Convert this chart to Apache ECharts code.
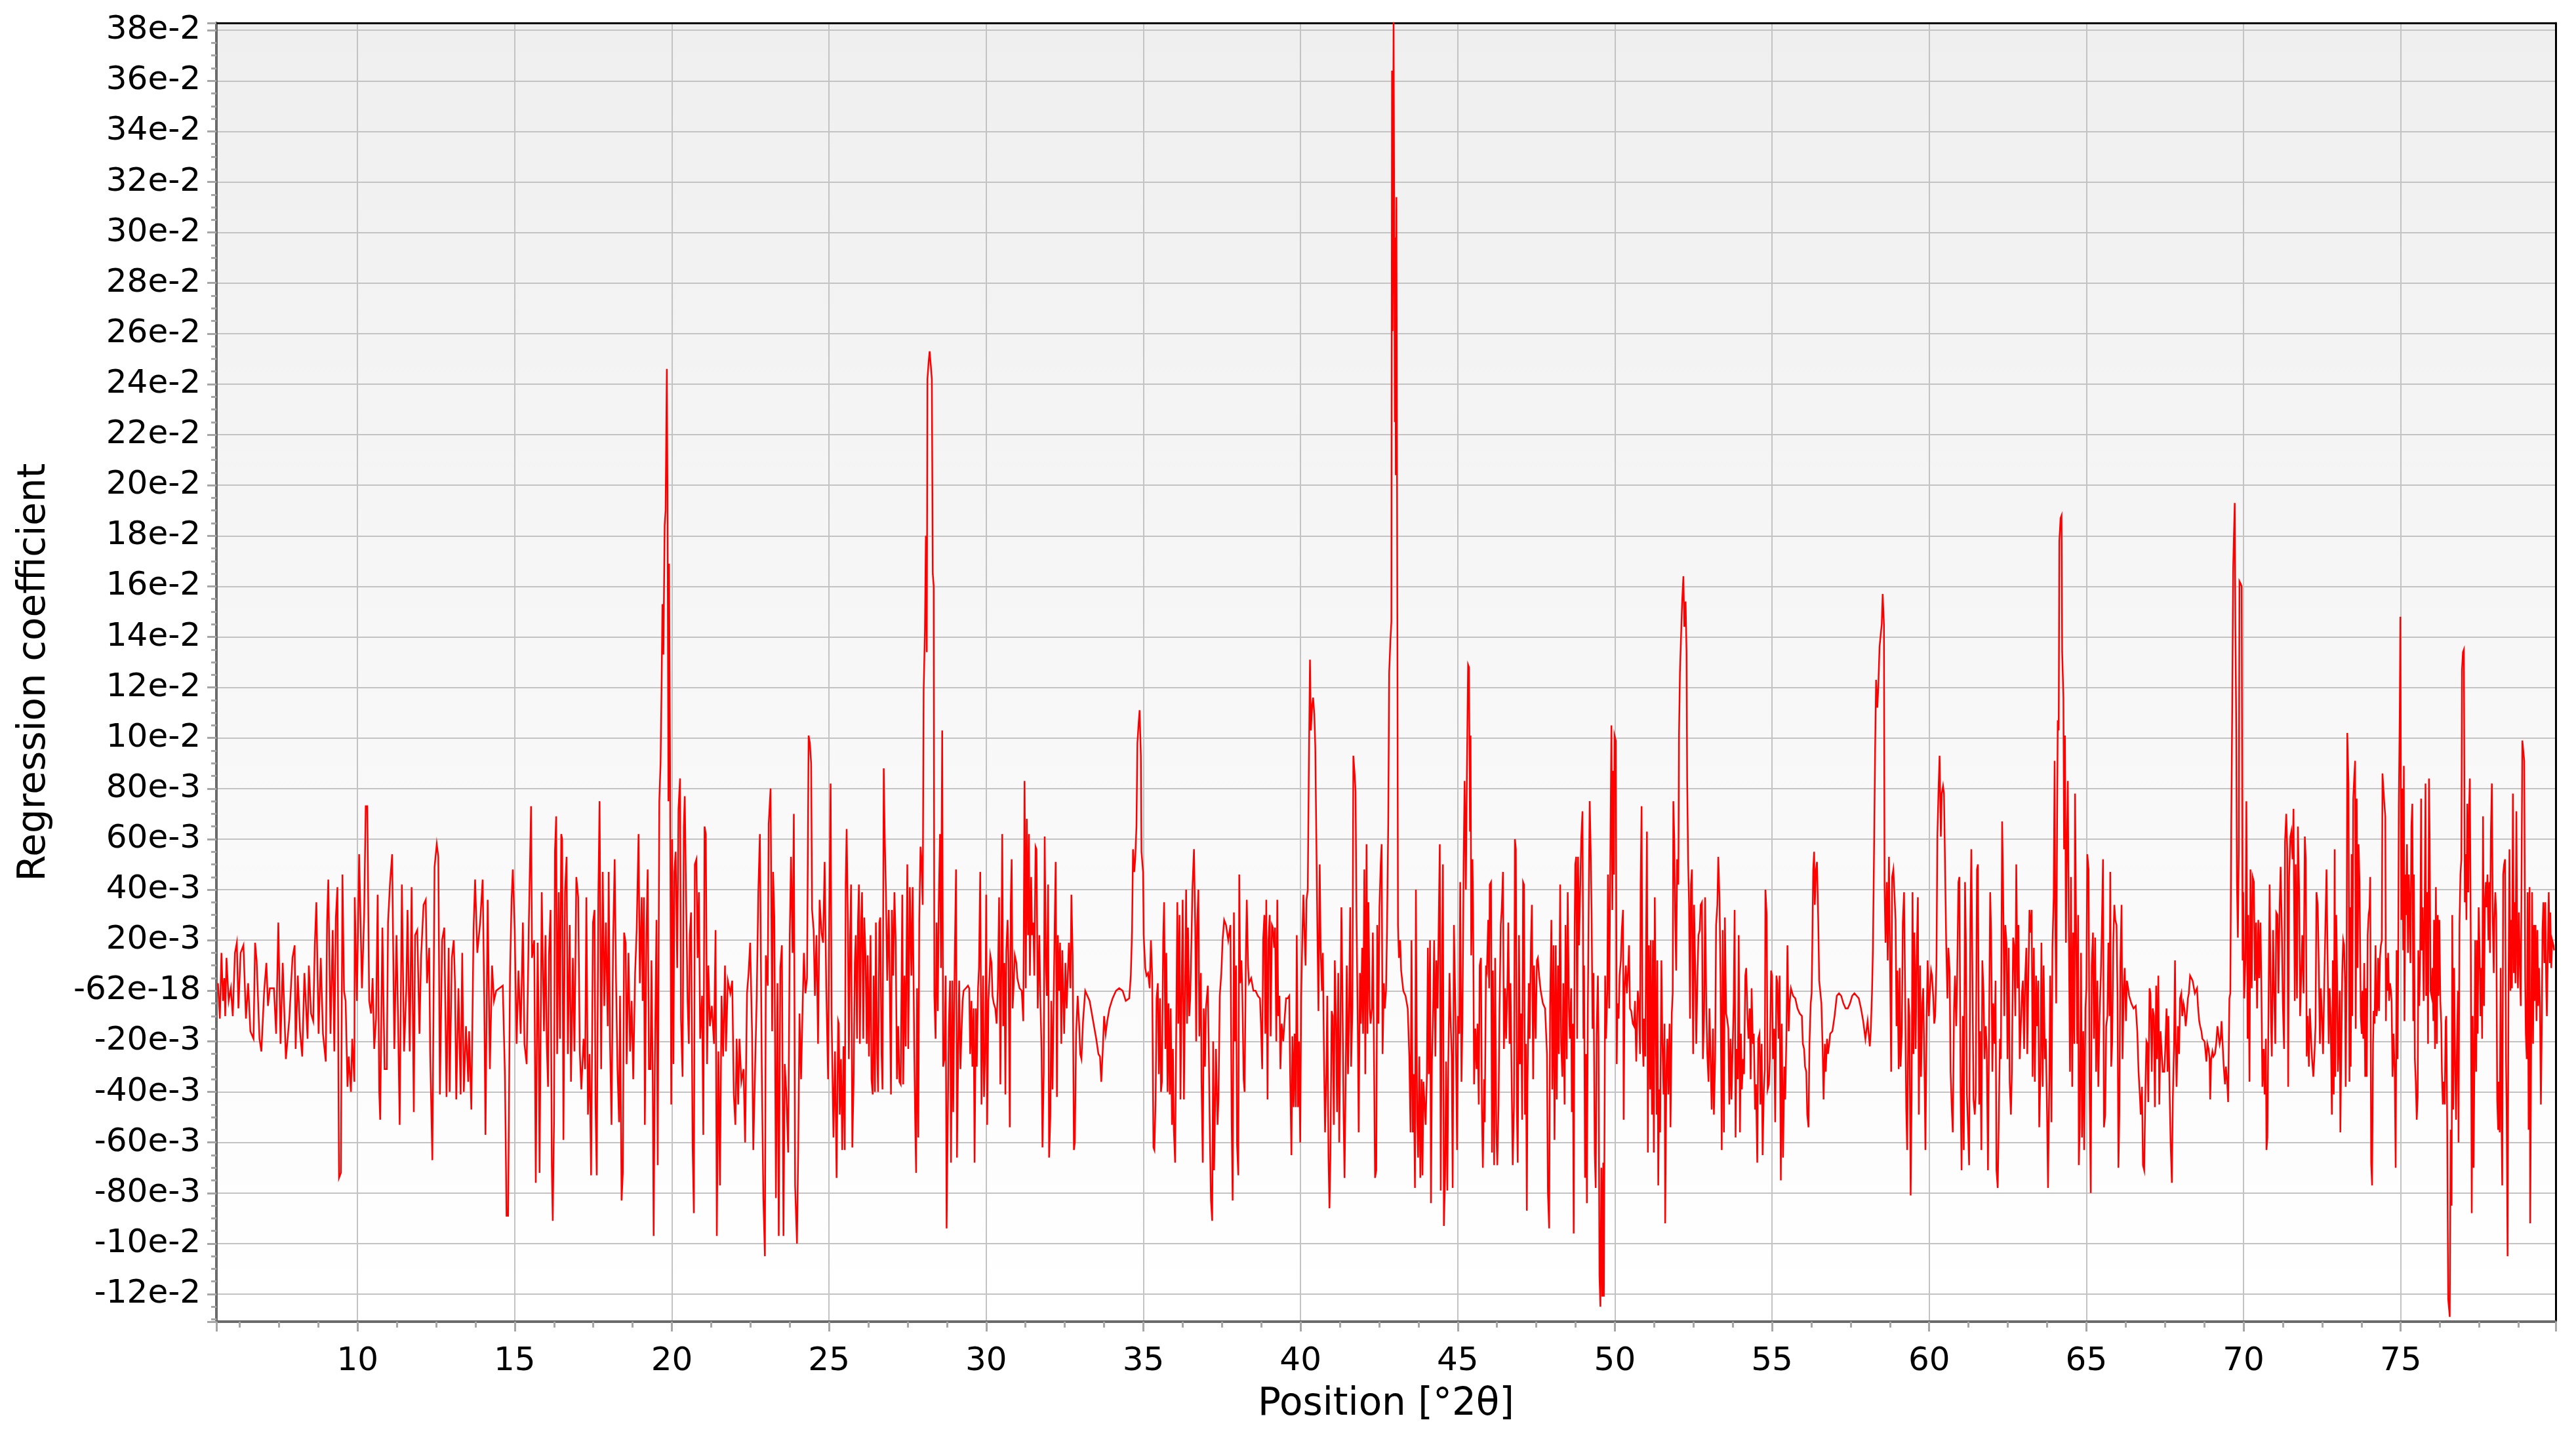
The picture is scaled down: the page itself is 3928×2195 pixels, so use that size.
<!DOCTYPE html>
<html>
<head>
<meta charset="utf-8">
<script src="https://cdn.jsdelivr.net/npm/echarts@6/dist/echarts.min.js"></script>
<style>
html,body{margin:0;padding:0;background:#ffffff;}
#chart{width:3928px;height:2195px;}
</style>
</head>
<body>
<div id="chart"></div>
<script>
// ---- texts ----
const xAxisTitle = 'Position [°2θ]';
const yAxisTitle = 'Regression coefficient';

// ---- axis ranges / ticks ----
const xRange = [5.51, 79.93];
const xSplits = 15;          // gives a tick every 5 °2θ
const yRange = [-0.1309, 0.3829];
const ySplits = 26;          // gives a tick every 0.02
const yTickStart = -0.12;
const yTickStep = 0.02;
const yTickLabels = ['-12e-2','-10e-2','-80e-3','-60e-3','-40e-3','-20e-3','-62e-18',
  '20e-3','40e-3','60e-3','80e-3','10e-2','12e-2','14e-2','16e-2','18e-2','20e-2',
  '22e-2','24e-2','26e-2','28e-2','30e-2','32e-2','34e-2','36e-2','38e-2'];

// ---- data: [position (°2θ), regression coefficient] ----
const seg05to15 = [[5.56,0.003],[5.62,-0.011],[5.67,0.015],[5.72,-0.004],[5.76,0.005],[5.79,-0.010],[5.83,0.013],[5.90,-0.004],[5.97,0.001],[6.03,-0.010],[6.10,0.015],[6.16,0.019],[6.21,-0.007],[6.28,0.015],[6.37,0.018],[6.45,-0.011],[6.52,0.003],[6.59,-0.016],[6.69,-0.019],[6.74,0.019],[6.79,0.012],[6.88,-0.019],[6.94,-0.024],[7.03,0.000],[7.10,0.011],[7.15,-0.006],[7.21,0.001],[7.34,0.001],[7.41,-0.017],[7.48,0.027],[7.55,-0.021],[7.62,0.011],[7.72,-0.027],[7.83,-0.011],[7.93,0.013],[8.00,0.018],[8.03,-0.023],[8.10,0.006],[8.17,-0.016],[8.24,-0.026],[8.31,0.007],[8.41,-0.019],[8.45,0.010],[8.52,-0.009],[8.59,-0.012],[8.64,0.018],[8.69,0.035],[8.76,-0.017],[8.83,0.013],[8.90,-0.017],[8.99,-0.028],[9.03,0.027],[9.07,0.044],[9.14,-0.017],[9.21,0.024],[9.26,-0.024],[9.31,0.029],[9.36,0.041],[9.41,-0.074],[9.47,-0.072],[9.52,0.046],[9.57,0.000],[9.62,-0.004],[9.68,-0.038],[9.72,-0.026],[9.79,-0.040],[9.83,-0.019],[9.90,-0.036],[9.91,0.037],[9.98,-0.004],[10.05,0.054],[10.14,0.001],[10.21,0.030],[10.26,0.073],[10.31,0.073],[10.37,-0.004],[10.43,-0.009],[10.48,0.005],[10.53,-0.023],[10.59,-0.011],[10.64,0.038],[10.69,-0.040],[10.72,-0.051],[10.79,0.025],[10.86,-0.031],[10.93,-0.031],[10.97,0.027],[11.03,0.042],[11.10,0.054],[11.17,-0.023],[11.24,0.022],[11.29,-0.012],[11.34,-0.053],[11.41,0.042],[11.48,-0.024],[11.55,0.000],[11.59,0.032],[11.66,-0.024],[11.72,0.041],[11.79,-0.048],[11.83,0.022],[11.90,0.024],[11.97,-0.017],[12.02,0.013],[12.10,0.034],[12.17,0.036],[12.21,0.003],[12.28,0.017],[12.31,-0.024],[12.38,-0.067],[12.45,0.049],[12.52,0.058],[12.57,0.053],[12.62,-0.041],[12.69,0.020],[12.76,0.025],[12.83,-0.042],[12.90,0.017],[12.93,-0.040],[13.00,0.013],[13.06,0.020],[13.10,0.003],[13.14,-0.043],[13.21,0.001],[13.28,-0.041],[13.33,0.015],[13.38,-0.040],[13.45,-0.014],[13.52,-0.036],[13.55,-0.016],[13.62,-0.047],[13.69,0.024],[13.74,0.044],[13.81,0.015],[13.90,0.027],[13.98,0.044],[14.03,-0.002],[14.07,-0.057],[14.14,0.036],[14.21,-0.031],[14.28,0.010],[14.34,-0.004],[14.41,0.000],[14.62,0.002],[14.69,-0.034],[14.74,-0.089],[14.79,-0.089],[14.85,0.006],[14.90,0.036],[14.94,0.048],[15.00,0.024],[15.06,-0.021],[15.12,0.008],[15.19,-0.017],[15.26,0.027],[15.31,-0.021],[15.38,-0.029],[15.45,0.027],[15.52,0.073],[15.55,0.013],[15.62,0.020],[15.67,-0.076]];

const seg15to25 = [[15.73,0.019],[15.76,-0.011],[15.79,-0.072],[15.83,-0.072],[15.86,0.039],[15.90,0.039],[15.93,-0.016],[15.98,0.022],[16.02,-0.021],[16.06,-0.038],[16.09,0.014],[16.14,0.032],[16.18,-0.069],[16.21,-0.091],[16.25,-0.052],[16.28,0.055],[16.32,0.069],[16.35,-0.025],[16.40,0.039],[16.44,-0.019],[16.48,0.062],[16.51,0.060],[16.55,-0.059],[16.60,0.039],[16.65,0.053],[16.69,-0.025],[16.75,0.026],[16.79,-0.036],[16.85,0.013],[16.90,-0.024],[16.96,0.045],[17.02,0.037],[17.07,-0.024],[17.12,-0.039],[17.19,-0.019],[17.24,-0.031],[17.28,0.037],[17.33,-0.049],[17.38,-0.025],[17.43,-0.073],[17.49,0.027],[17.54,0.032],[17.57,-0.045],[17.61,-0.073],[17.66,0.037],[17.70,0.075],[17.75,-0.031],[17.80,0.047],[17.85,-0.006],[17.90,0.027],[17.96,-0.014],[17.99,0.047],[18.03,-0.019],[18.08,-0.053],[18.13,0.019],[18.18,0.052],[18.22,0.007],[18.27,-0.031],[18.32,-0.052],[18.35,-0.002],[18.40,-0.083],[18.44,-0.072],[18.48,0.023],[18.53,0.019],[18.56,-0.029],[18.62,0.015],[18.67,-0.024],[18.72,-0.004],[18.77,-0.035],[18.83,0.007],[18.88,0.024],[18.94,0.062],[18.98,0.003],[19.04,0.037],[19.07,-0.004],[19.11,0.037],[19.14,-0.053],[19.19,0.022],[19.23,0.048],[19.27,-0.031],[19.32,-0.031],[19.35,0.012],[19.39,-0.033],[19.42,-0.097],[19.46,-0.026],[19.51,0.028],[19.55,-0.069],[19.60,0.075],[19.64,0.090],[19.67,0.118],[19.70,0.153],[19.73,0.133],[19.77,0.184],[19.80,0.190],[19.84,0.246],[19.86,0.199],[19.89,0.075],[19.91,0.169],[19.94,0.095],[19.98,-0.045],[20.01,0.060],[20.05,-0.029],[20.08,0.047],[20.12,0.055],[20.17,0.009],[20.21,0.072],[20.26,0.084],[20.29,-0.011],[20.34,-0.034],[20.38,0.065],[20.41,0.077],[20.45,0.039],[20.50,-0.004],[20.54,-0.021],[20.57,0.022],[20.61,0.031],[20.66,-0.062],[20.70,-0.088],[20.73,0.050],[20.78,0.052],[20.82,0.013],[20.86,0.039],[20.90,-0.019],[20.96,-0.002],[21.00,-0.057],[21.04,0.065],[21.08,0.062],[21.12,-0.029],[21.16,0.010],[21.21,-0.014],[21.27,-0.006],[21.34,-0.021],[21.39,0.024],[21.43,-0.097],[21.48,-0.024],[21.53,-0.077],[21.58,-0.002],[21.63,-0.026],[21.69,0.010],[21.72,-0.024],[21.78,0.004],[21.86,-0.001],[21.92,0.004],[21.97,-0.041],[22.02,-0.053],[22.06,-0.019],[22.11,-0.045],[22.15,-0.019],[22.21,-0.036],[22.28,-0.031],[22.33,-0.060],[22.39,-0.001],[22.44,0.007],[22.49,0.019],[22.55,-0.016],[22.59,-0.063],[22.65,-0.029],[22.70,-0.002],[22.75,0.039],[22.80,0.062],[22.86,-0.031],[22.91,-0.082],[22.96,-0.105],[22.99,0.014],[23.05,0.002],[23.08,0.066],[23.14,0.080],[23.19,-0.016],[23.22,0.047],[23.26,0.029],[23.31,-0.082],[23.36,0.003],[23.40,-0.097],[23.45,0.009],[23.50,0.018],[23.55,-0.097],[23.59,-0.029],[23.64,-0.040],[23.70,-0.064],[23.75,0.022],[23.79,0.053],[23.84,0.015],[23.88,0.070],[23.92,-0.077],[23.98,-0.100],[24.02,-0.062],[24.06,-0.009],[24.11,-0.035],[24.16,-0.006],[24.20,0.015],[24.25,-0.001],[24.30,0.005],[24.35,0.101],[24.39,0.098],[24.43,0.090],[24.46,0.032],[24.51,0.024],[24.55,-0.002],[24.60,0.022],[24.65,-0.021],[24.70,0.036],[24.76,0.023],[24.81,0.019],[24.86,0.051],[24.91,0.002],[24.97,-0.035],[25.00,0.019],[25.05,0.082],[25.08,-0.009],[25.14,-0.058],[25.19,-0.024],[25.24,-0.074],[25.29,-0.012]];

const seg25to35 = [[25.31,-0.013],[25.34,-0.049],[25.38,-0.027],[25.42,-0.063],[25.46,-0.022],[25.50,-0.063],[25.53,0.042],[25.56,0.064],[25.60,0.027],[25.63,-0.027],[25.67,0.022],[25.70,0.042],[25.74,-0.062],[25.78,-0.037],[25.82,0.011],[25.85,0.022],[25.89,-0.019],[25.92,0.027],[25.95,0.042],[25.98,-0.021],[26.02,0.027],[26.05,0.039],[26.09,-0.019],[26.12,0.029],[26.16,0.014],[26.20,-0.021],[26.23,0.014],[26.27,-0.026],[26.32,0.022],[26.35,-0.035],[26.39,-0.041],[26.42,0.006],[26.46,-0.040],[26.49,0.027],[26.53,-0.025],[26.56,-0.040],[26.60,0.027],[26.63,0.029],[26.67,-0.025],[26.70,-0.039],[26.74,0.088],[26.77,0.062],[26.81,0.039],[26.85,0.004],[26.90,0.032],[26.93,0.004],[26.97,-0.041],[27.00,0.032],[27.04,0.006],[27.08,0.039],[27.12,0.020],[27.16,-0.035],[27.20,-0.014],[27.24,-0.036],[27.28,-0.037],[27.33,0.038],[27.36,-0.037],[27.40,0.006],[27.44,-0.022],[27.49,0.050],[27.52,-0.023],[27.57,0.041],[27.62,0.006],[27.66,0.041],[27.71,-0.022],[27.74,-0.051],[27.77,-0.072],[27.80,0.001],[27.84,-0.058],[27.87,0.028],[27.91,0.057],[27.94,0.052],[27.98,0.034],[28.01,0.119],[28.05,0.142],[28.08,0.180],[28.11,0.134],[28.13,0.242],[28.17,0.249],[28.20,0.253],[28.24,0.247],[28.27,0.242],[28.30,0.165],[28.33,0.160],[28.35,-0.002],[28.39,-0.019],[28.42,0.027],[28.46,-0.008],[28.49,0.034],[28.53,0.062],[28.56,0.009],[28.60,0.103],[28.63,-0.030],[28.67,-0.027],[28.71,0.006],[28.74,-0.094],[28.78,-0.094],[28.81,-0.014],[28.85,0.004],[28.88,-0.068],[28.92,0.004],[28.95,-0.048],[29.00,0.014],[29.04,0.048],[29.07,-0.066],[29.11,-0.022],[29.14,0.004],[29.18,-0.031],[29.21,-0.018],[29.25,-0.004],[29.28,0.000],[29.35,0.001],[29.42,0.002],[29.46,0.001],[29.49,-0.025],[29.53,-0.004],[29.56,-0.030],[29.60,-0.007],[29.63,-0.068],[29.67,-0.007],[29.70,-0.030],[29.74,0.001],[29.77,0.009],[29.81,0.047],[29.85,-0.045],[29.90,0.006],[29.93,-0.042],[29.97,-0.022],[30.00,0.038],[30.03,-0.053],[30.07,-0.004],[30.10,0.004],[30.13,0.014],[30.17,0.011],[30.20,-0.002],[30.24,-0.005],[30.29,-0.007],[30.33,-0.013],[30.37,0.001],[30.41,0.037],[30.45,-0.037],[30.48,0.009],[30.51,0.062],[30.54,-0.014],[30.58,0.011],[30.61,-0.041],[30.64,0.016],[30.68,0.028],[30.71,0.011],[30.75,-0.054],[30.78,0.034],[30.81,0.052],[30.84,-0.007],[30.87,0.001],[30.91,0.014],[30.96,0.011],[30.99,0.005],[31.06,0.001],[31.13,0.000],[31.18,-0.012],[31.22,0.083],[31.26,0.001],[31.29,0.068],[31.33,0.022],[31.36,0.062],[31.39,0.006],[31.43,0.045],[31.46,0.022],[31.50,0.027],[31.53,0.006],[31.57,0.057],[31.60,0.056],[31.64,-0.007],[31.69,0.022],[31.72,-0.002],[31.76,-0.023],[31.79,-0.062],[31.83,-0.032],[31.86,0.061],[31.90,0.010],[31.93,-0.002],[31.97,0.042],[32.00,-0.066],[32.04,-0.050],[32.07,-0.004],[32.11,-0.039],[32.14,-0.009],[32.18,0.027],[32.21,0.051],[32.25,-0.042],[32.28,0.022],[32.32,0.000],[32.35,0.019],[32.39,-0.021],[32.42,0.016],[32.48,-0.017],[32.52,0.011],[32.56,-0.007],[32.63,0.019],[32.68,0.001],[32.71,0.038],[32.75,0.014],[32.79,-0.063],[32.82,-0.060],[32.86,-0.017],[32.91,-0.002],[32.96,-0.014],[32.99,-0.025],[33.03,-0.027],[33.08,-0.012],[33.15,0.000],[33.22,-0.002],[33.29,-0.004],[33.36,-0.009],[33.43,-0.014],[33.50,-0.019],[33.57,-0.025],[33.62,-0.026],[33.66,-0.036],[33.71,-0.023],[33.75,-0.010],[33.80,-0.017],[33.85,-0.012],[33.92,-0.007],[34.02,-0.003],[34.13,0.000],[34.23,0.001],[34.34,0.000],[34.44,-0.004],[34.55,-0.003],[34.60,0.006],[34.64,0.024],[34.67,0.056],[34.71,0.047],[34.74,0.052],[34.78,0.065],[34.81,0.098],[34.85,0.106],[34.88,0.111],[34.92,0.093],[34.94,0.055],[34.99,0.047],[35.01,0.022],[35.06,0.009],[35.10,0.006],[35.15,0.007],[35.20,0.001],[35.24,0.020],[35.28,0.006],[35.32,-0.062]];

const seg35to45 = [[35.35,-0.063],[35.39,-0.043],[35.42,-0.003],[35.46,0.003],[35.49,-0.033],[35.53,-0.003],[35.56,-0.040],[35.59,-0.036],[35.63,0.020],[35.66,0.035],[35.70,-0.023],[35.73,0.015],[35.77,-0.040],[35.80,-0.005],[35.84,-0.041],[35.87,-0.007],[35.91,-0.053],[35.94,-0.023],[35.97,-0.055],[36.01,-0.068],[36.04,-0.023],[36.08,0.035],[36.11,-0.013],[36.15,0.030],[36.18,-0.043],[36.22,0.003],[36.25,0.036],[36.29,-0.043],[36.32,-0.007],[36.36,0.040],[36.39,-0.013],[36.42,0.025],[36.46,-0.010],[36.49,-0.003],[36.53,0.020],[36.56,0.040],[36.61,0.056],[36.65,0.025],[36.68,-0.020],[36.71,0.026],[36.75,0.040],[36.78,-0.018],[36.83,0.007],[36.85,-0.036],[36.89,-0.068],[36.92,-0.007],[36.96,-0.030],[36.99,-0.007],[37.05,0.002],[37.08,-0.023],[37.12,-0.060],[37.15,-0.083],[37.19,-0.091],[37.22,-0.020],[37.25,-0.071],[37.31,-0.023],[37.36,-0.053],[37.39,-0.043],[37.43,-0.002],[37.48,0.007],[37.52,0.020],[37.57,0.028],[37.63,0.026],[37.70,0.020],[37.77,0.026],[37.81,-0.053],[37.84,-0.083],[37.88,0.031],[37.91,-0.020],[37.95,0.010],[37.98,-0.061],[38.02,-0.073],[38.05,0.046],[38.08,0.003],[38.12,0.012],[38.15,-0.002],[38.19,-0.035],[38.22,-0.040],[38.26,0.013],[38.29,0.036],[38.33,0.010],[38.36,0.003],[38.43,0.005],[38.50,0.000],[38.57,0.000],[38.64,-0.002],[38.71,-0.003],[38.74,-0.013],[38.78,-0.031],[38.81,0.020],[38.85,0.030],[38.88,-0.017],[38.91,0.036],[38.95,-0.043],[38.98,0.020],[39.02,0.030],[39.05,-0.018],[39.09,0.026],[39.12,0.025],[39.16,0.017],[39.19,0.025],[39.23,-0.020],[39.26,0.036],[39.29,-0.010],[39.33,-0.002],[39.36,-0.031],[39.40,-0.013],[39.45,-0.020],[39.50,-0.010],[39.54,-0.003],[39.59,-0.003],[39.64,-0.002],[39.67,-0.033],[39.71,-0.065],[39.74,-0.018],[39.78,-0.046],[39.81,-0.017],[39.85,-0.046],[39.88,0.022],[39.92,-0.046],[39.95,-0.020],[39.99,-0.060],[40.02,-0.003],[40.06,0.023],[40.09,0.038],[40.12,0.025],[40.16,0.010],[40.19,0.036],[40.23,0.040],[40.26,0.083],[40.30,0.131],[40.33,0.103],[40.37,0.113],[40.40,0.116],[40.44,0.109],[40.47,0.096],[40.50,0.063],[40.54,0.020],[40.57,-0.008],[40.61,0.050],[40.64,0.017],[40.68,0.000],[40.71,0.015],[40.75,-0.030],[40.78,-0.056],[40.82,-0.033],[40.85,-0.002],[40.89,-0.066],[40.92,-0.086],[40.95,-0.066],[40.99,-0.008],[41.02,-0.010],[41.06,-0.053],[41.09,0.012],[41.13,-0.013],[41.16,-0.048],[41.20,0.007],[41.23,-0.060],[41.27,-0.013],[41.30,0.033],[41.33,0.003],[41.37,-0.050],[41.40,-0.074],[41.44,-0.030],[41.47,0.010],[41.51,-0.033],[41.54,-0.013],[41.58,0.033],[41.61,-0.030],[41.65,-0.007],[41.68,0.093],[41.72,0.086],[41.75,0.079],[41.78,0.030],[41.82,-0.013],[41.85,-0.056],[41.89,0.007],[41.92,-0.013],[41.96,0.017],[41.99,-0.017],[42.03,0.048],[42.06,-0.033],[42.10,0.058],[42.13,-0.017],[42.16,0.035],[42.20,-0.007],[42.23,-0.013],[42.27,-0.007],[42.30,0.023],[42.34,-0.030],[42.37,-0.074],[42.41,-0.071],[42.44,0.026],[42.48,-0.013],[42.51,0.033],[42.55,0.050],[42.58,0.058],[42.61,-0.025],[42.65,0.003],[42.68,-0.007],[42.72,0.000],[42.75,0.023],[42.79,0.066],[42.82,0.126],[42.86,0.139],[42.89,0.146],[42.91,0.364],[42.93,0.261],[42.96,0.386],[43.00,0.225],[43.02,0.298],[43.03,0.204],[43.05,0.314],[43.08,0.146],[43.10,0.026],[43.13,0.013],[43.17,0.020],[43.20,0.008],[43.27,0.000],[43.34,-0.002],[43.41,-0.007],[43.46,-0.026],[43.50,-0.056],[43.53,0.020],[43.57,-0.056],[43.60,-0.033],[43.64,-0.078],[43.67,0.040],[43.71,-0.050],[43.74,-0.066],[43.78,-0.026],[43.81,-0.074],[43.85,-0.035],[43.88,-0.073],[43.91,-0.036],[43.95,-0.046],[43.98,-0.053],[44.02,-0.033],[44.05,0.017],[44.08,-0.033],[44.12,0.020],[44.15,-0.084],[44.18,-0.028],[44.22,-0.007],[44.25,0.020],[44.29,-0.026],[44.32,0.012],[44.36,-0.007],[44.39,-0.007],[44.43,0.058],[44.46,-0.079],[44.50,0.013],[44.53,0.050],[44.56,-0.093],[44.60,-0.073],[44.63,-0.028],[44.67,-0.079],[44.70,-0.030],[44.74,0.007],[44.77,-0.010],[44.81,-0.026],[44.84,-0.078],[44.88,0.026],[44.91,0.026],[44.94,-0.017],[44.98,-0.063],[45.01,-0.010],[45.05,-0.017],[45.08,0.043],[45.12,-0.036],[45.15,-0.013],[45.19,0.053],[45.22,0.083],[45.26,0.040],[45.29,0.083],[45.33,0.129]];

const seg45to55 = [[45.36,0.128],[45.39,0.063],[45.41,0.101],[45.43,0.014],[45.47,0.052],[45.49,0.032],[45.52,-0.037],[45.56,-0.015],[45.60,-0.031],[45.63,-0.013],[45.67,-0.045],[45.70,0.010],[45.74,0.013],[45.77,-0.047],[45.80,-0.070],[45.84,-0.035],[45.86,-0.052],[45.90,0.010],[45.93,0.008],[45.97,0.028],[46.00,0.001],[46.02,0.042],[46.06,0.043],[46.09,-0.064],[46.12,0.008],[46.16,-0.069],[46.19,0.013],[46.23,-0.056],[46.26,-0.069],[46.30,-0.045],[46.33,-0.007],[46.37,0.026],[46.40,0.032],[46.44,0.047],[46.47,-0.023],[46.51,0.001],[46.54,-0.019],[46.58,0.001],[46.61,0.027],[46.65,-0.021],[46.68,0.003],[46.72,-0.039],[46.75,-0.069],[46.79,-0.045],[46.82,0.060],[46.85,0.056],[46.88,-0.046],[46.91,-0.068],[46.95,0.022],[46.98,-0.029],[47.02,-0.009],[47.05,-0.051],[47.08,0.043],[47.11,0.042],[47.14,-0.049],[47.17,-0.021],[47.20,-0.087],[47.22,-0.037],[47.26,0.003],[47.29,-0.019],[47.33,0.019],[47.36,0.034],[47.40,-0.035],[47.43,0.010],[47.48,-0.019],[47.52,0.012],[47.55,0.013],[47.59,0.006],[47.64,0.000],[47.71,-0.005],[47.78,-0.007],[47.84,-0.025],[47.87,-0.080],[47.91,-0.094],[47.94,-0.006],[47.98,0.028],[48.01,-0.039],[48.05,0.018],[48.08,-0.059],[48.12,0.018],[48.15,-0.043],[48.19,0.010],[48.22,-0.025],[48.26,0.042],[48.29,-0.021],[48.33,-0.034],[48.36,0.003],[48.40,-0.045],[48.43,0.026],[48.47,-0.027],[48.50,0.039],[48.54,-0.007],[48.57,-0.019],[48.61,0.001],[48.63,-0.048],[48.66,-0.013],[48.69,-0.096],[48.72,0.024],[48.74,0.050],[48.77,0.053],[48.80,-0.019],[48.83,0.053],[48.86,0.018],[48.90,0.042],[48.93,0.060],[48.97,0.071],[49.00,-0.019],[49.02,0.010],[49.05,-0.074],[49.08,-0.025],[49.11,-0.084],[49.14,-0.007],[49.18,0.052],[49.20,0.075],[49.23,0.056],[49.26,0.030],[49.29,-0.015],[49.32,0.007],[49.36,-0.064],[49.39,-0.078],[49.42,-0.017],[49.46,0.006],[49.48,-0.019],[49.51,-0.113],[49.54,-0.125],[49.57,-0.070],[49.60,-0.121],[49.63,-0.068],[49.65,-0.121],[49.69,0.006],[49.72,-0.019],[49.76,0.000],[49.78,0.046],[49.82,-0.007],[49.85,0.044],[49.89,0.105],[49.92,0.032],[49.94,0.087],[49.97,0.046],[49.99,0.101],[50.03,0.099],[50.06,-0.029],[50.08,-0.005],[50.12,-0.011],[50.15,0.006],[50.19,0.012],[50.22,0.024],[50.26,0.032],[50.28,-0.051],[50.31,0.001],[50.35,0.010],[50.38,-0.001],[50.42,0.008],[50.45,0.018],[50.48,-0.007],[50.52,-0.008],[50.57,-0.013],[50.61,-0.014],[50.64,-0.004],[50.68,-0.028],[50.73,0.000],[50.77,-0.007],[50.80,-0.025],[50.82,0.042],[50.85,0.073],[50.88,-0.019],[50.91,-0.030],[50.93,-0.011],[50.97,-0.026],[50.99,0.014],[51.02,0.063],[51.05,-0.064],[51.08,0.018],[51.12,-0.039],[51.14,0.020],[51.18,-0.049],[51.21,0.020],[51.24,-0.064],[51.27,0.037],[51.30,-0.011],[51.33,-0.049],[51.35,0.012],[51.38,-0.077],[51.41,-0.039],[51.44,-0.056],[51.48,0.012],[51.51,-0.019],[51.55,-0.041],[51.58,-0.013],[51.60,-0.092],[51.64,-0.031],[51.67,-0.019],[51.70,-0.041],[51.74,-0.013],[51.77,-0.054],[51.81,-0.009],[51.84,-0.001],[51.86,0.075],[51.89,0.060],[51.92,0.028],[51.95,0.008],[51.98,0.052],[52.02,0.042],[52.04,0.101],[52.07,0.126],[52.11,0.142],[52.14,0.154],[52.18,0.164],[52.21,0.144],[52.25,0.154],[52.28,0.134],[52.30,0.083],[52.33,0.052],[52.36,0.034],[52.39,-0.011],[52.42,0.042],[52.45,0.048],[52.49,-0.025],[52.52,0.034],[52.56,0.006],[52.59,-0.021],[52.63,0.008],[52.66,0.022],[52.70,0.024],[52.73,0.034],[52.77,0.035],[52.80,-0.027],[52.84,-0.009],[52.87,0.037],[52.91,-0.007],[52.94,-0.025],[52.98,-0.036],[53.01,-0.007],[53.05,-0.007],[53.08,-0.047],[53.12,-0.015],[53.15,-0.049],[53.19,-0.027],[53.22,0.026],[53.26,0.034],[53.29,0.053],[53.33,0.036],[53.36,0.006],[53.40,-0.063],[53.43,0.024],[53.47,-0.056],[53.50,0.029],[53.54,-0.009],[53.57,-0.011],[53.61,-0.015],[53.64,-0.045],[53.68,-0.019],[53.71,-0.043],[53.75,-0.021],[53.78,-0.005],[53.81,0.032],[53.84,-0.058],[53.87,-0.023],[53.91,-0.035],[53.94,0.022],[53.98,-0.056],[54.01,-0.017],[54.04,-0.039],[54.08,-0.027],[54.11,-0.033],[54.15,0.006],[54.18,0.009],[54.22,-0.011],[54.25,-0.019],[54.29,-0.007],[54.32,-0.035],[54.35,0.001],[54.39,-0.021],[54.42,-0.017],[54.46,-0.047],[54.49,-0.037],[54.53,-0.068],[54.56,-0.019],[54.60,-0.017],[54.63,-0.045],[54.67,-0.021],[54.70,-0.065],[54.74,-0.039],[54.77,-0.031],[54.79,0.040],[54.83,0.030],[54.86,-0.039],[54.90,-0.037],[54.93,-0.027],[54.97,0.008],[55.00,0.006],[55.03,-0.027],[55.07,-0.015],[55.10,-0.052],[55.14,0.006],[55.17,0.003],[55.21,-0.019],[55.24,0.006],[55.28,-0.075],[55.31,-0.013],[55.35,-0.066]];

const seg55to65 = [[55.39,-0.030],[55.42,-0.043],[55.46,-0.016],[55.49,0.018],[55.53,-0.016],[55.56,-0.005],[55.60,0.001],[55.67,-0.002],[55.74,-0.003],[55.81,-0.007],[55.88,-0.009],[55.95,-0.010],[55.98,-0.021],[56.02,-0.023],[56.05,-0.030],[56.09,-0.032],[56.12,-0.049],[56.16,-0.054],[56.19,-0.021],[56.23,-0.005],[56.26,-0.001],[56.28,0.017],[56.31,0.048],[56.34,0.055],[56.36,0.034],[56.40,0.048],[56.43,0.051],[56.47,0.028],[56.50,0.004],[56.54,-0.001],[56.57,-0.005],[56.61,-0.023],[56.64,-0.043],[56.68,-0.021],[56.71,-0.032],[56.75,-0.019],[56.78,-0.025],[56.82,-0.021],[56.85,-0.017],[56.92,-0.016],[56.99,-0.010],[57.06,-0.002],[57.13,-0.001],[57.20,-0.002],[57.27,-0.005],[57.34,-0.007],[57.41,-0.007],[57.48,-0.005],[57.55,-0.002],[57.62,-0.001],[57.69,-0.002],[57.76,-0.003],[57.83,-0.007],[57.90,-0.012],[57.97,-0.019],[58.04,-0.012],[58.11,-0.022],[58.14,-0.016],[58.18,-0.001],[58.21,0.017],[58.25,0.061],[58.28,0.096],[58.31,0.123],[58.35,0.112],[58.38,0.120],[58.42,0.136],[58.45,0.140],[58.49,0.145],[58.52,0.157],[58.56,0.145],[58.58,0.041],[58.61,0.019],[58.65,0.043],[58.68,0.012],[58.72,0.053],[58.75,0.017],[58.79,-0.032],[58.82,0.045],[58.86,0.048],[58.89,0.048],[58.93,0.028],[58.96,-0.014],[58.99,0.008],[59.03,-0.031],[59.06,0.009],[59.09,-0.030],[59.13,-0.016],[59.16,0.027],[59.20,0.039],[59.23,0.004],[59.27,-0.047],[59.30,-0.063],[59.34,-0.003],[59.37,-0.010],[59.41,-0.081],[59.44,-0.043],[59.47,0.039],[59.50,-0.025],[59.53,0.023],[59.57,-0.023],[59.60,0.012],[59.64,0.037],[59.67,-0.049],[59.71,0.010],[59.74,-0.034],[59.78,-0.005],[59.81,0.001],[59.85,-0.032],[59.88,-0.063],[59.92,-0.010],[59.95,0.012],[59.99,-0.010],[60.02,-0.001],[60.06,0.008],[60.09,0.006],[60.13,-0.003],[60.16,-0.013],[60.19,-0.010],[60.23,0.010],[60.26,0.061],[60.30,0.081],[60.33,0.093],[60.37,0.061],[60.40,0.078],[60.44,0.081],[60.47,0.078],[60.51,0.045],[60.54,0.019],[60.58,-0.003],[60.61,0.017],[60.65,0.008],[60.68,-0.032],[60.72,-0.047],[60.75,-0.056],[60.79,-0.007],[60.82,0.006],[60.86,-0.014],[60.89,0.006],[60.93,0.043],[60.96,0.045],[61.00,-0.041],[61.03,-0.071],[61.07,-0.010],[61.10,-0.063],[61.14,0.043],[61.17,0.017],[61.20,-0.041],[61.24,-0.056],[61.27,-0.069],[61.31,0.028],[61.34,0.056],[61.38,0.056],[61.41,-0.043],[61.45,-0.049],[61.48,-0.041],[61.52,0.048],[61.55,0.050],[61.59,-0.045],[61.62,-0.016],[61.66,-0.063],[61.69,0.012],[61.73,-0.001],[61.76,-0.027],[61.80,-0.014],[61.83,-0.023],[61.87,-0.071],[61.90,-0.023],[61.94,0.039],[61.97,0.023],[62.01,-0.032],[62.04,-0.005],[62.08,-0.021],[62.11,0.004],[62.14,-0.071],[62.18,-0.078],[62.21,-0.054],[62.25,-0.019],[62.28,-0.027],[62.32,0.067],[62.35,0.043],[62.39,-0.010],[62.42,0.026],[62.46,0.019],[62.49,-0.027],[62.53,0.017],[62.56,-0.036],[62.60,-0.049],[62.63,-0.032],[62.67,0.021],[62.70,0.018],[62.74,-0.010],[62.77,0.050],[62.81,0.001],[62.84,0.026],[62.88,-0.027],[62.91,-0.027],[62.95,-0.001],[62.98,0.004],[63.02,-0.023],[63.05,0.004],[63.09,0.017],[63.12,-0.025],[63.15,0.001],[63.19,0.032],[63.22,0.023],[63.26,0.032],[63.29,-0.034],[63.33,0.017],[63.36,-0.036],[63.40,0.006],[63.43,-0.014],[63.47,0.004],[63.50,-0.054],[63.54,-0.032],[63.57,0.019],[63.61,-0.038],[63.64,0.010],[63.68,-0.027],[63.71,-0.019],[63.75,-0.049],[63.78,-0.078],[63.82,-0.036],[63.85,0.006],[63.89,-0.052],[63.92,0.017],[63.96,0.037],[63.99,0.091],[64.01,0.030],[64.04,-0.005],[64.07,0.070],[64.09,0.107],[64.12,0.103],[64.14,0.178],[64.18,0.187],[64.21,0.188],[64.23,0.134],[64.27,0.116],[64.29,0.056],[64.32,0.101],[64.35,0.019],[64.37,0.048],[64.41,0.083],[64.44,0.026],[64.48,-0.032],[64.51,0.045],[64.55,-0.038],[64.58,0.023],[64.62,-0.021],[64.64,0.078],[64.67,0.030],[64.71,-0.021],[64.74,0.030],[64.76,-0.069],[64.79,-0.054],[64.83,0.015],[64.86,-0.058],[64.90,-0.016],[64.93,-0.063],[64.97,-0.007],[65.00,0.001],[65.03,0.054],[65.07,0.048],[65.10,-0.034],[65.14,-0.080],[65.17,0.010],[65.21,0.023],[65.24,-0.019],[65.28,0.021],[65.31,-0.032],[65.35,0.004],[65.38,-0.038]];

const seg65to73 = [[65.42,-0.010],[65.46,0.006],[65.49,0.023],[65.53,0.052],[65.56,-0.054],[65.60,-0.049],[65.63,-0.014],[65.67,-0.010],[65.70,0.019],[65.74,-0.010],[65.76,0.047],[65.79,-0.030],[65.82,-0.021],[65.86,0.021],[65.89,0.034],[65.92,0.028],[65.96,0.026],[65.99,-0.001],[66.02,-0.070],[66.05,-0.049],[66.08,0.010],[66.12,0.034],[66.15,-0.027],[66.19,0.001],[66.22,0.009],[66.26,-0.012],[66.29,0.004],[66.33,0.001],[66.36,-0.002],[66.43,-0.005],[66.50,-0.007],[66.57,-0.006],[66.62,-0.016],[66.66,-0.032],[66.70,-0.041],[66.73,-0.049],[66.77,-0.038],[66.80,-0.069],[66.84,-0.071],[66.87,-0.045],[66.91,-0.020],[66.94,-0.021],[66.97,-0.044],[67.01,0.001],[67.04,-0.001],[67.08,-0.032],[67.11,-0.007],[67.15,-0.010],[67.18,-0.046],[67.22,0.002],[67.25,-0.027],[67.29,0.006],[67.32,-0.045],[67.36,-0.016],[67.39,-0.016],[67.43,-0.032],[67.48,-0.032],[67.51,-0.023],[67.55,-0.007],[67.58,-0.032],[67.61,-0.010],[67.65,-0.041],[67.68,-0.060],[67.72,-0.076],[67.75,-0.043],[67.79,-0.021],[67.82,0.012],[67.84,-0.019],[67.87,-0.038],[67.91,-0.014],[67.95,-0.025],[67.98,-0.003],[68.02,-0.001],[68.05,-0.010],[68.09,-0.005],[68.12,-0.007],[68.16,-0.014],[68.19,-0.010],[68.23,-0.003],[68.26,-0.001],[68.30,0.006],[68.33,0.006],[68.38,0.004],[68.45,-0.001],[68.52,0.001],[68.55,-0.006],[68.59,-0.012],[68.62,-0.014],[68.66,-0.016],[68.69,-0.019],[68.76,-0.020],[68.82,-0.028],[68.85,-0.021],[68.89,-0.023],[68.92,-0.027],[68.94,-0.043],[68.97,-0.027],[69.01,-0.024],[69.04,-0.026],[69.09,-0.025],[69.13,-0.021],[69.17,-0.014],[69.20,-0.014],[69.24,-0.021],[69.27,-0.019],[69.30,-0.012],[69.34,-0.012],[69.37,-0.030],[69.41,-0.037],[69.44,-0.030],[69.48,-0.036],[69.51,-0.044],[69.55,-0.003],[69.58,-0.001],[69.61,0.067],[69.64,0.112],[69.67,0.167],[69.69,0.178],[69.72,0.193],[69.74,0.145],[69.77,0.101],[69.79,0.043],[69.82,0.021],[69.85,0.056],[69.87,0.162],[69.91,0.161],[69.94,0.160],[69.97,0.012],[69.99,0.039],[70.02,-0.003],[70.06,0.012],[70.09,0.075],[70.13,-0.019],[70.15,0.030],[70.19,-0.036],[70.22,0.048],[70.26,0.001],[70.29,0.045],[70.33,0.043],[70.36,0.004],[70.40,0.027],[70.43,-0.007],[70.47,0.028],[70.50,0.005],[70.54,0.027],[70.57,-0.001],[70.60,-0.038],[70.64,-0.023],[70.67,-0.041],[70.71,-0.019],[70.73,-0.063],[70.76,-0.058],[70.80,0.001],[70.83,0.042],[70.87,-0.010],[70.90,-0.026],[70.94,0.024],[70.97,0.001],[71.01,-0.021],[71.04,0.031],[71.08,0.030],[71.11,-0.001],[71.15,0.034],[71.18,0.049],[71.22,0.023],[71.25,-0.005],[71.29,-0.023],[71.32,0.059],[71.36,0.070],[71.39,0.056],[71.42,-0.038],[71.45,0.045],[71.49,0.061],[71.52,0.063],[71.56,0.052],[71.59,0.072],[71.63,-0.004],[71.66,0.050],[71.70,-0.003],[71.73,0.065],[71.77,0.039],[71.80,-0.010],[71.84,0.008],[71.87,0.022],[71.91,-0.001],[71.95,0.061],[71.98,0.052],[72.01,-0.026],[72.04,-0.010],[72.08,-0.030],[72.11,-0.007],[72.15,-0.019],[72.18,-0.027],[72.22,-0.034],[72.25,-0.027],[72.29,-0.014],[72.32,0.039],[72.36,0.034],[72.39,0.012],[72.43,-0.021],[72.46,0.001],[72.50,-0.012],[72.53,-0.025],[72.57,0.004],[72.60,0.023],[72.64,0.048],[72.67,0.017],[72.71,-0.021],[72.74,0.001],[72.77,-0.010],[72.81,-0.049],[72.84,0.012],[72.87,-0.041],[72.90,0.056]];

const seg73to80 = [[72.92,-0.034],[72.95,0.030],[72.98,0.003],[73.00,-0.032],[73.03,-0.021],[73.06,0.000],[73.08,-0.056],[73.12,-0.056],[73.14,0.007],[73.17,0.020],[73.20,0.018],[73.23,0.003],[73.25,-0.038],[73.28,0.009],[73.30,0.102],[73.32,0.102],[73.34,0.082],[73.37,-0.036],[73.39,0.033],[73.41,-0.030],[73.44,0.054],[73.46,-0.010],[73.49,0.076],[73.52,0.084],[73.55,0.091],[73.57,-0.015],[73.60,0.076],[73.63,0.009],[73.66,0.058],[73.69,0.043],[73.73,-0.010],[73.76,-0.017],[73.78,0.000],[73.81,-0.019],[73.84,0.011],[73.87,-0.034],[73.89,0.001],[73.92,-0.034],[73.95,0.022],[73.98,0.030],[74.01,0.033],[74.03,0.045],[74.06,-0.068],[74.09,-0.077],[74.12,-0.021],[74.14,-0.008],[74.17,-0.013],[74.20,0.018],[74.23,-0.010],[74.26,-0.006],[74.28,0.013],[74.31,-0.008],[74.34,0.013],[74.37,0.018],[74.40,0.020],[74.42,0.086],[74.45,0.080],[74.48,0.074],[74.51,0.069],[74.53,-0.012],[74.55,0.013],[74.58,0.000],[74.60,0.015],[74.63,-0.004],[74.66,0.003],[74.69,0.000],[74.71,-0.004],[74.74,-0.034],[74.77,-0.017],[74.81,-0.032],[74.84,-0.070],[74.87,0.016],[74.90,-0.027],[74.92,0.009],[74.94,0.073],[74.97,0.110],[74.99,0.148],[75.02,0.028],[75.05,0.080],[75.08,0.016],[75.10,0.089],[75.12,-0.012],[75.15,0.046],[75.17,0.030],[75.20,0.058],[75.23,0.015],[75.26,0.046],[75.29,0.028],[75.31,0.011],[75.34,0.065],[75.37,0.074],[75.40,-0.012],[75.42,0.046],[75.45,-0.027],[75.48,-0.036],[75.51,-0.051],[75.54,-0.042],[75.56,0.016],[75.59,-0.006],[75.62,0.015],[75.65,0.076],[75.67,0.016],[75.70,0.033],[75.73,-0.004],[75.76,0.030],[75.79,0.082],[75.81,-0.002],[75.84,0.039],[75.87,-0.021],[75.90,0.084],[75.92,0.061],[75.95,0.000],[75.98,-0.002],[76.01,0.009],[76.04,-0.012],[76.06,0.028],[76.09,-0.023],[76.12,0.041],[76.15,-0.021],[76.18,0.030],[76.20,-0.002],[76.23,0.028],[76.26,-0.004],[76.29,-0.013],[76.31,-0.032],[76.34,-0.045],[76.37,-0.036],[76.40,-0.045],[76.43,-0.012],[76.45,-0.010],[76.48,-0.053],[76.51,-0.122],[76.54,-0.126],[76.56,-0.129],[76.59,-0.055],[76.62,-0.085],[76.64,0.030],[76.67,-0.047],[76.70,0.009],[76.73,-0.028],[76.76,-0.051],[76.79,-0.021],[76.82,0.000],[76.84,-0.060],[76.87,0.026],[76.90,0.046],[76.93,0.052],[76.95,0.127],[76.98,0.134],[77.01,0.135],[77.04,0.035],[77.07,0.054],[77.09,0.028],[77.12,0.074],[77.15,0.039],[77.18,0.074],[77.20,0.084],[77.23,0.018],[77.26,-0.088],[77.29,-0.010],[77.32,-0.070],[77.34,-0.036],[77.37,0.020],[77.40,-0.032],[77.43,0.020],[77.45,-0.017],[77.48,0.033],[77.51,0.016],[77.54,-0.010],[77.57,0.009],[77.59,-0.019],[77.62,0.069],[77.65,-0.006],[77.68,0.035],[77.71,0.043],[77.73,0.033],[77.76,0.046],[77.79,0.020],[77.82,0.043],[77.84,0.015],[77.87,0.063],[77.90,0.082],[77.93,0.028],[77.96,0.007],[77.98,0.028],[78.01,0.039],[78.04,0.030],[78.07,-0.043],[78.10,-0.055],[78.12,-0.036],[78.15,-0.056],[78.18,0.009],[78.21,-0.055],[78.23,-0.077],[78.26,0.046],[78.29,0.050],[78.32,0.052],[78.35,-0.027],[78.37,-0.047],[78.40,-0.105],[78.43,0.003],[78.46,0.056],[78.49,0.000],[78.51,0.028],[78.54,0.001],[78.57,0.078],[78.60,0.007],[78.62,0.035],[78.65,0.003],[78.68,0.071],[78.71,0.011],[78.73,0.001],[78.76,0.031],[78.79,0.011],[78.82,-0.006],[78.85,0.059],[78.87,0.099],[78.90,0.095],[78.93,0.091],[78.96,0.005],[78.98,-0.017],[79.01,-0.027],[79.04,0.039],[79.07,-0.055],[79.10,0.041],[79.12,-0.092],[79.15,-0.023],[79.18,0.039],[79.21,-0.021],[79.24,0.026],[79.26,-0.004],[79.29,0.026],[79.32,-0.012],[79.35,0.024],[79.37,-0.006],[79.40,0.009],[79.43,-0.006],[79.46,-0.045],[79.49,-0.013],[79.51,0.024],[79.54,0.035],[79.57,0.011],[79.60,0.035],[79.63,0.001],[79.65,-0.010],[79.68,0.015],[79.71,0.039],[79.74,0.011],[79.76,0.031],[79.79,0.009],[79.82,0.020],[79.86,0.018],[79.88,0.016]];

const coefficientSeries = [].concat(seg05to15, seg15to25, seg25to35, seg35to45,
  seg45to55, seg55to65, seg65to73, seg73to80);

// ---- chart ----
const FONT = 'DejaVu Sans';
const GRID_GRAY = '#c3c3c3';
const TICK_GRAY = '#a6a6a6';
const AXIS_GRAY = '#6a6a6a';

function yLabel(v) {
  const idx = Math.round((v - yTickStart) / yTickStep);
  if (Math.abs(v - (yTickStart + idx * yTickStep)) > 1e-6) return '';
  return yTickLabels[idx] || '';
}
function xLabel(v) {
  if (Math.abs(v - Math.round(v)) > 1e-6) return '';
  return String(Math.round(v));
}

const chart = echarts.init(document.getElementById('chart'), null, {renderer: 'canvas', width: 3928, height: 2195});
chart.setOption({
  animation: false,
  backgroundColor: '#ffffff',
  textStyle: {fontFamily: FONT},
  grid: {
    left: 330, right: 31, top: 35, bottom: 179,
    containLabel: false,
    outerBoundsMode: 'none',
    show: true,
    borderWidth: 0,
    backgroundColor: new echarts.graphic.LinearGradient(0, 0, 0, 1, [
      {offset: 0, color: '#efefef'},
      {offset: 0.55, color: '#f8f8f8'},
      {offset: 1, color: '#ffffff'}
    ])
  },
  xAxis: [{
    type: 'value',
    position: 'bottom',
    min: xRange[0], max: xRange[1], splitNumber: xSplits,
    name: xAxisTitle, nameLocation: 'middle', nameGap: 98,
    nameTextStyle: {fontFamily: FONT, fontSize: 58, color: '#000'},
    axisLine: {show: true, onZero: false, lineStyle: {color: AXIS_GRAY, width: 4}},
    axisTick: {show: true, length: 15, lineStyle: {color: TICK_GRAY, width: 3}},
    minorTick: {show: true, splitNumber: 4, length: 9, lineStyle: {color: TICK_GRAY, width: 3}},
    axisLabel: {show: true, fontFamily: FONT, fontSize: 50, color: '#000', margin: 36,
      formatter: xLabel, showMinLabel: false, showMaxLabel: false},
    splitLine: {show: true, lineStyle: {color: GRID_GRAY, width: 2}},
    minorSplitLine: {show: false}
  }, {
    type: 'value',
    position: 'top',
    min: xRange[0], max: xRange[1],
    axisLine: {show: true, onZero: false, lineStyle: {color: '#000', width: 3}},
    axisTick: {show: false}, axisLabel: {show: false}, splitLine: {show: false}
  }],
  yAxis: [{
    type: 'value',
    position: 'left',
    min: yRange[0], max: yRange[1], splitNumber: ySplits,
    name: yAxisTitle, nameLocation: 'middle', nameGap: 248,
    nameTextStyle: {fontFamily: FONT, fontSize: 58, color: '#000'},
    axisLine: {show: true, onZero: false, lineStyle: {color: AXIS_GRAY, width: 4}},
    axisTick: {show: true, length: 14, lineStyle: {color: TICK_GRAY, width: 3}},
    minorTick: {show: true, splitNumber: 4, length: 8, lineStyle: {color: TICK_GRAY, width: 3}},
    axisLabel: {show: true, fontFamily: FONT, fontSize: 50, color: '#000', margin: 24,
      formatter: yLabel, showMinLabel: false, showMaxLabel: false},
    splitLine: {show: true, lineStyle: {color: GRID_GRAY, width: 2}},
    minorSplitLine: {show: false}
  }, {
    type: 'value',
    position: 'right',
    min: yRange[0], max: yRange[1],
    axisLine: {show: true, onZero: false, lineStyle: {color: '#000', width: 3}},
    axisTick: {show: false}, axisLabel: {show: false}, splitLine: {show: false}
  }],
  series: [{
    type: 'line',
    xAxisIndex: 0, yAxisIndex: 0,
    data: coefficientSeries,
    showSymbol: false,
    symbol: 'none',
    sampling: null,
    clip: true,
    lineStyle: {color: '#ff0000', width: 2.5, join: 'miter'},
    emphasis: {disabled: true},
    z: 3
  }]
});
</script>
</body>
</html>
